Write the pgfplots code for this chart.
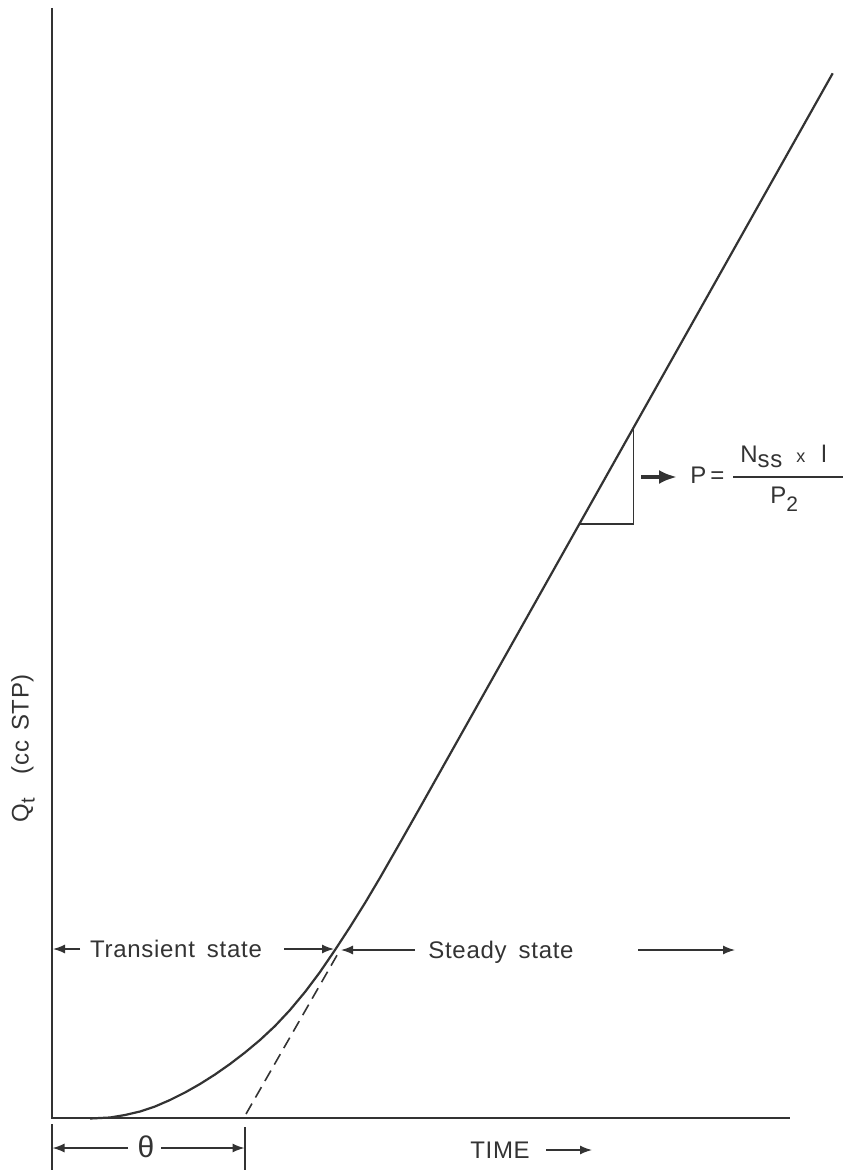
\documentclass[border=0pt]{standalone}
\usepackage{pgfplots}
\pgfplotsset{compat=1.18}
\usepackage{fontspec}
\setmainfont{Liberation Sans}[LetterSpace=3]
\usetikzlibrary{arrows.meta}
\definecolor{ink}{HTML}{333333}
\begin{document}
\begin{tikzpicture}[font=\fontsize{12}{14}\selectfont, color=ink,
  dim/.style={line width=0.7pt, ink, -{Latex[length=6pt,width=4.5pt]}}]
\begin{axis}[scale only axis, width=426.5pt, height=585.5pt,
  xmin=0, xmax=853, ymin=0, ymax=1171, y dir=reverse,
  hide axis, clip=false]
\addplot[draw=none, mark=none] coordinates {(0,0) (853,1171)};
% axes
\addplot[line width=1pt, ink, mark=none] coordinates {(52,8) (52,1118) (790,1118)};
% permeation curve
\addplot[line width=1.1pt, ink, mark=none] coordinates {
(90,1118.5) (110,1117.5) (125,1115) (140,1111.5) (155,1106.5) (170,1100)
(185,1092.5) (200,1084) (215,1074.5) (230,1064) (245,1052.5) (260,1040)
(275,1026) (290,1010) (305,992) (320,972) (335,950) (350,927) (365,903)
(380,877.7) (400,842.8) (420,807.5) (832.7,73.3)};
% extrapolated asymptote
\addplot[line width=0.8pt, ink, mark=none, dash pattern=on 6pt off 3.5pt] coordinates {(246,1114) (340,950)};
% slope triangle
\addplot[line width=0.8pt, ink, mark=none] coordinates {(633.4,428) (633.4,524) (579.5,524)};
% theta dimension
\addplot[line width=0.7pt, ink, mark=none] coordinates {(52,1124) (52,1170)};
\addplot[line width=0.7pt, ink, mark=none] coordinates {(245,1127) (245,1170)};
\draw[dim] (128,1148) -- (52.5,1148);
\draw[dim] (161,1148) -- (244.5,1148);
\node[font=\fontsize{15}{15}\selectfont] at (146,1147) {θ};
% transient / steady state
\draw[dim] (80,949) -- (53,949);
\node[anchor=base] at (176,957) {Transient\hspace{0.5em}state};
\draw[dim] (284,949) -- (334,949);
\draw[dim] (415,950) -- (341,950);
\node[anchor=base] at (501,958) {Steady\hspace{0.5em}state};
\draw[dim] (638,950) -- (735,950);
% time
\node[anchor=base] at (500,1158) {TIME};
\draw[dim] (546,1150) -- (592,1150);
% y label
\node[rotate=90, anchor=east] at (23,667) {Q\raisebox{-3pt}{\fontsize{10}{10}\selectfont t}\hspace{12pt}(cc\hspace{5pt}STP)};
% permeability formula
\draw[line width=2pt, ink, -{Latex[length=9pt,width=7pt]}] (641,477) -- (677,477);
\node[anchor=base west, inner sep=0pt] at (690,483) {P\hspace{2pt}=};
\draw[line width=0.75pt, ink] (733,477) -- (843,477);
\node[anchor=base west, inner sep=0pt] at (740,462) {N\raisebox{-2.5pt}{ss}\hspace{7pt}{\fontsize{9}{9}\selectfont x}\hspace{8pt}l};
\node[anchor=base west, inner sep=0pt] at (770,503) {P\raisebox{-4pt}{\fontsize{10.5}{10.5}\selectfont 2}};
\end{axis}
\end{tikzpicture}
\end{document}
